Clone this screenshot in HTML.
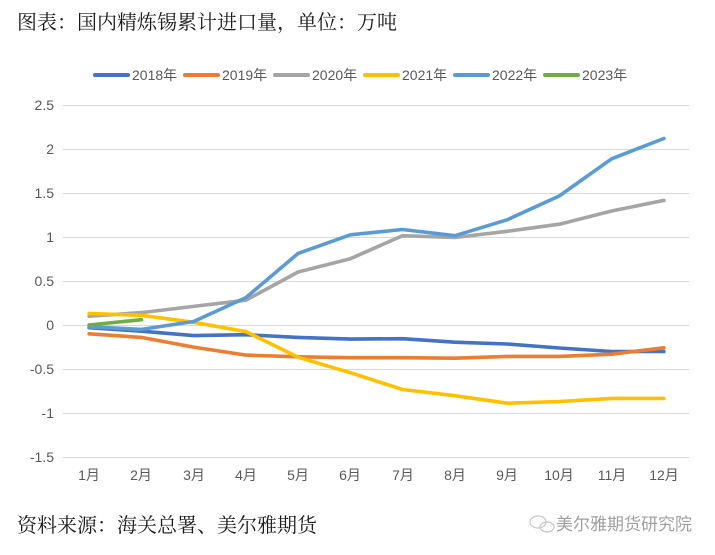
<!DOCTYPE html>
<html>
<head>
<meta charset="utf-8">
<style>
html,body{margin:0;padding:0;background:#fff;}
body{width:715px;height:555px;overflow:hidden;}
svg{display:block;}
.t{font-family:"Liberation Serif","Noto Serif CJK SC",serif;font-size:20px;fill:#1a1a1a;}
.ax{font-family:"Liberation Sans","Noto Sans CJK SC",sans-serif;font-size:14px;fill:#595959;}
.wm{font-family:"Liberation Sans","Noto Sans CJK SC",sans-serif;font-size:17px;fill:#a0a0a0;}
</style>
</head>
<body>
<svg width="715" height="555" viewBox="0 0 715 555" xmlns="http://www.w3.org/2000/svg">
<rect width="715" height="555" fill="#fff"/>
<text class="t" x="17" y="29">图表：国内精炼锡累计进口量，单位：万吨</text>

<!-- legend -->
<g stroke-width="4" stroke-linecap="round">
<line x1="95" y1="75" x2="128" y2="75" stroke="#4472C4"/>
<line x1="185" y1="75" x2="218" y2="75" stroke="#ED7D31"/>
<line x1="275" y1="75" x2="308" y2="75" stroke="#A5A5A5"/>
<line x1="365" y1="75" x2="398" y2="75" stroke="#FFC000"/>
<line x1="455" y1="75" x2="488" y2="75" stroke="#5B9BD5"/>
<line x1="545" y1="75" x2="578" y2="75" stroke="#70AD47"/>
</g>
<g class="ax">
<text x="132" y="80">2018年</text>
<text x="222" y="80">2019年</text>
<text x="312" y="80">2020年</text>
<text x="402" y="80">2021年</text>
<text x="492" y="80">2022年</text>
<text x="582" y="80">2023年</text>
</g>

<!-- gridlines -->
<g stroke="#D9D9D9" stroke-width="1">
<line x1="63" y1="105.5" x2="689" y2="105.5"/>
<line x1="63" y1="149.5" x2="689" y2="149.5"/>
<line x1="63" y1="193.5" x2="689" y2="193.5"/>
<line x1="63" y1="237.5" x2="689" y2="237.5"/>
<line x1="63" y1="281.5" x2="689" y2="281.5"/>
<line x1="63" y1="325.5" x2="689" y2="325.5"/>
<line x1="63" y1="369.5" x2="689" y2="369.5"/>
<line x1="63" y1="413.5" x2="689" y2="413.5"/>
<line x1="63" y1="457.5" x2="689" y2="457.5"/>
</g>

<!-- y labels -->
<g class="ax" text-anchor="end">
<text x="54" y="110">2.5</text>
<text x="54" y="154">2</text>
<text x="54" y="198">1.5</text>
<text x="54" y="242">1</text>
<text x="54" y="286">0.5</text>
<text x="54" y="330">0</text>
<text x="54" y="374">-0.5</text>
<text x="54" y="418">-1</text>
<text x="54" y="462">-1.5</text>
</g>

<!-- x labels -->
<g class="ax" text-anchor="middle">
<text x="89" y="480">1月</text>
<text x="141" y="480">2月</text>
<text x="194" y="480">3月</text>
<text x="246" y="480">4月</text>
<text x="298" y="480">5月</text>
<text x="350" y="480">6月</text>
<text x="403" y="480">7月</text>
<text x="455" y="480">8月</text>
<text x="507" y="480">9月</text>
<text x="559" y="480">10月</text>
<text x="612" y="480">11月</text>
<text x="664" y="480">12月</text>
</g>

<!-- series -->
<g fill="none" stroke-width="3.6" stroke-linejoin="round" stroke-linecap="round">
<polyline stroke="#4472C4" points="89.1,327.7 141.4,331.2 193.6,335.6 245.9,334.7 298.1,337.4 350.4,339.1 402.6,338.7 454.9,342.2 507.1,344 559.4,348 611.6,351.5 663.9,351.5"/>
<polyline stroke="#ED7D31" points="89.1,333.8 141.4,337.4 193.6,347.1 245.9,355.1 298.1,356.8 350.4,357.7 402.6,357.7 454.9,358.2 507.1,356.4 559.4,356.4 611.6,354.2 663.9,347.8"/>
<polyline stroke="#A5A5A5" points="89.1,316.2 141.4,312.6 193.6,306.4 245.9,300.2 298.1,272 350.4,258.7 402.6,235.7 454.9,237.5 507.1,231.3 559.4,224.2 611.6,211 663.9,200.4"/>
<polyline stroke="#FFC000" points="89.1,313.5 141.4,315.3 193.6,322.3 245.9,331.6 298.1,357.3 350.4,372.7 402.6,389.5 454.9,395.7 507.1,403.2 559.4,401.5 611.6,398.4 663.9,398.4"/>
<polyline stroke="#5B9BD5" points="89.1,326.8 141.4,329.4 193.6,321.5 245.9,297.6 298.1,253.4 350.4,234.8 402.6,229.5 454.9,235.7 507.1,219.8 559.4,195.9 611.6,158.8 663.9,138.5"/>
<polyline stroke="#70AD47" points="89.1,325 141.4,319.7"/>
</g>

<!-- footer -->
<text class="t" x="17" y="532">资料来源：海关总署、美尔雅期货</text>
<g fill="none" stroke="#c8c8c8" stroke-width="1.2">
<ellipse cx="538" cy="522" rx="8" ry="6"/>
<ellipse cx="547" cy="527" rx="7" ry="5"/>
</g>
<text class="wm" x="556" y="530">美尔雅期货研究院</text>
</svg>
</body>
</html>
